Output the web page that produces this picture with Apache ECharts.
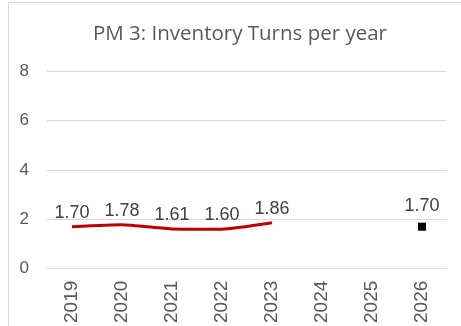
<!DOCTYPE html>
<html><head><meta charset="utf-8">
<script src="https://cdn.jsdelivr.net/npm/echarts@6/dist/echarts.min.js"></script>
<style>html,body{margin:0;padding:0;background:#fff}#c{width:461px;height:326px}</style>
</head><body><div id="c"></div>
<script>
const categories = ['2019','2020','2021','2022','2023','2024','2025','2026'];
const actual = [1.70, 1.78, 1.61, 1.60, 1.86, null, null, null];
const target = [null, null, null, null, null, null, null, 1.70];
const yTicks = [0, 2, 4, 6, 8];

const chart = echarts.init(document.getElementById('c'), null, {renderer:'canvas'});
chart.setOption({
  animation: false,
  title: {
    text: 'PM 3: Inventory Turns per year',
    left: 88, top: 19,
    textStyle: {fontFamily: 'Open Sans', fontSize: 20.5, fontWeight: 'normal', color: '#595959'}
  },
  graphic: [{
    type: 'rect', shape: {x: 8.5, y: 2.5, width: 470, height: 340},
    style: {fill: 'none', stroke: '#d9d9d9', lineWidth: 1}, silent: true
  }],
  grid: {left: 47, right: 14, top: 71, bottom: 56},
  xAxis: {
    type: 'category', data: categories, boundaryGap: true,
    axisLine: {show: false}, axisTick: {show: false},
    axisLabel: {rotate: 90, fontFamily: 'Liberation Sans', fontSize: 19, color: '#595959', margin: 12}
  },
  yAxis: {
    type: 'value', min: yTicks[0], max: yTicks[yTicks.length-1], interval: 2,
    axisLine: {show: false}, axisTick: {show: false},
    axisLabel: {fontFamily: 'Liberation Sans', fontSize: 17, color: '#595959', margin: 18},
    splitLine: {lineStyle: {color: '#d9d9d9', width: 1}}
  },
  series: [{
    type: 'line', data: actual, smooth: 0.15, symbol: 'circle', symbolSize: 0.1, showSymbol: true,
    itemStyle: {color: '#c00000'},
    lineStyle: {color: '#c00000', width: 3},
    labelLayout: {hideOverlap: false},
    label: {show: true, position: 'top', distance: 5, formatter: p => p.value.toFixed(2),
      fontFamily: 'Liberation Sans', fontSize: 18, color: '#404040'}
  },{
    type: 'line', data: target, symbol: 'rect', symbolSize: 8, showSymbol: true,
    itemStyle: {color: '#000'}, lineStyle: {width: 0},
    label: {show: true, position: 'top', distance: 8, formatter: p => p.value.toFixed(2),
      fontFamily: 'Liberation Sans', fontSize: 18, color: '#404040'}
  }]
});
</script></body></html>
